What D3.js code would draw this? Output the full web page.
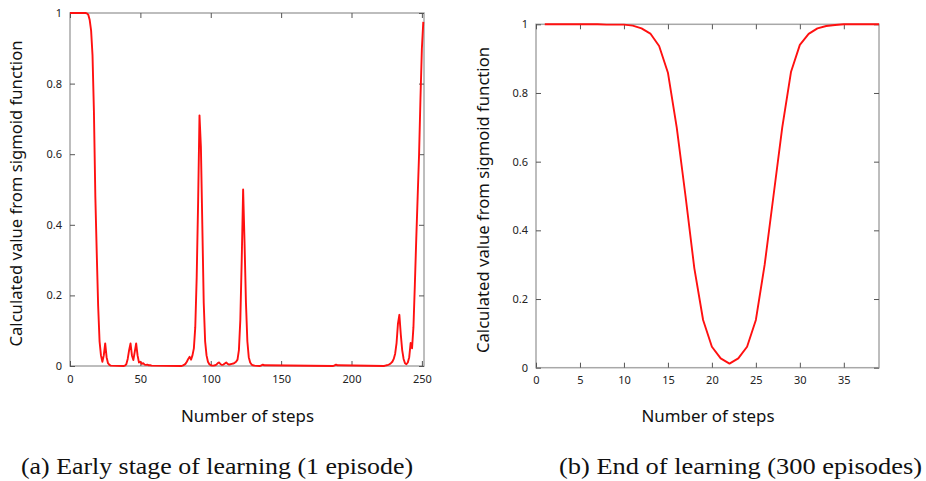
<!DOCTYPE html>
<html>
<head>
<meta charset="utf-8">
<script src="https://cdn.jsdelivr.net/npm/d3@7"></script>
<style>
  html, body { margin: 0; padding: 0; background: #fff; }
  svg { display: block; }
  .cap { font-family: "Liberation Serif", Tinos, "Times New Roman", serif; }
</style>
</head>
<body>
<svg id="chart" width="926" height="481"></svg>
<script>
// ---------- data ----------
// (a) Early stage of learning (1 episode)
const stepsA = [
  0, 10, 11, 12, 13, 14, 15, 16, 17, 18, 19, 20, 21, 22, 23, 24, 25, 26, 27, 28, 29, 38,
  39, 40, 41, 42, 43, 44, 45, 46, 47, 48, 49, 50, 51, 52, 53, 54, 55, 56, 57, 58, 79,
  80, 81, 82, 83, 84, 85, 86, 87, 88, 89, 90, 91, 92, 93, 94, 95, 96, 97, 98, 99, 100,
  101, 102, 103, 104, 105, 106, 107, 108, 109, 110, 111, 112, 113, 114, 115, 116, 117,
  118, 119, 120, 121, 122, 123, 124, 125, 126, 127, 128, 129, 130, 131, 135,
  136, 137, 138, 187, 188, 189, 190, 223,
  224, 225, 226, 227, 228, 229, 230, 231, 232, 233, 234, 235, 236, 237, 238, 239, 240,
  241, 242, 243, 244, 245, 246, 247, 248, 249, 250, 251
];
const valuesA = [
  1, 1, 1, 0.999, 0.995, 0.98, 0.95, 0.88, 0.72, 0.48, 0.32, 0.17, 0.07, 0.03, 0.012, 0.03, 0.064, 0.025, 0.008, 0.003, 0.001, 0,
  0.001, 0.005, 0.02, 0.045, 0.064, 0.03, 0.017, 0.04, 0.064, 0.03, 0.01, 0.012, 0.006, 0.008, 0.004, 0.003, 0.004, 0.002, 0.002, 0.001, 0,
  0.001, 0.003, 0.006, 0.012, 0.02, 0.026, 0.018, 0.03, 0.05, 0.11, 0.25, 0.46, 0.71, 0.62, 0.4, 0.18, 0.07, 0.03, 0.012, 0.005, 0.002,
  0.001, 0.001, 0.002, 0.004, 0.008, 0.01, 0.005, 0.003, 0.004, 0.007, 0.01, 0.006, 0.004, 0.005, 0.006, 0.007, 0.009,
  0.012, 0.018, 0.045, 0.13, 0.3, 0.5, 0.35, 0.18, 0.07, 0.025, 0.01, 0.004, 0.002, 0.001, 0,
  0.002, 0.004, 0.002, 0, 0.002, 0.004, 0.002, 0,
  0.001, 0.002, 0.003, 0.005, 0.008, 0.012, 0.02, 0.035, 0.065, 0.12, 0.145, 0.09, 0.045, 0.02, 0.008, 0.005, 0.01,
  0.025, 0.065, 0.05, 0.11, 0.23, 0.36, 0.48, 0.6, 0.76, 0.9, 0.975
];

// (b) End of learning (300 episodes)
const stepsB = [1, 2, 3, 4, 5, 6, 7, 8, 9, 10, 11, 12, 13, 14, 15, 16, 17, 18, 19, 20,
  21, 22, 23, 24, 25, 26, 27, 28, 29, 30, 31, 32, 33, 34, 35, 36, 37, 38, 39];
const valuesB = [1, 1, 1, 1, 1, 1, 1, 0.999, 0.999, 0.999, 0.996, 0.988, 0.973, 0.937, 0.859, 0.70, 0.50, 0.29, 0.139, 0.061,
  0.027, 0.012, 0.027, 0.061, 0.139, 0.30, 0.50, 0.70, 0.862, 0.94, 0.972, 0.988, 0.995, 0.998, 1, 1, 1, 1, 1];

// tick labels
const xTicksA = [0, 50, 100, 150, 200, 250];
const xTicksB = [0, 5, 10, 15, 20, 25, 30, 35];
const yTicks = [0, 0.2, 0.4, 0.6, 0.8, 1];

const yTitle = "Calculated value from sigmoid function";
const xTitle = "Number of steps";
const captions = ["(a) Early stage of learning (1 episode)", "(b) End of learning (300 episodes)"];

// ---------- drawing ----------
const svg = d3.select("#chart");
const FONT = "'Noto Sans', 'DejaVu Sans', sans-serif";

function panel(cfg) {
  const x = d3.scaleLinear().domain(cfg.xDomain).range([cfg.left, cfg.right]);
  const y = d3.scaleLinear().domain([0, 1]).range([cfg.bottom, cfg.top]);
  const g = svg.append("g");

  // frame
  g.append("rect")
    .attr("x", cfg.left).attr("y", cfg.top)
    .attr("width", cfg.right - cfg.left).attr("height", cfg.bottom - cfg.top)
    .attr("fill", "none").attr("stroke", "#a8a8a8").attr("stroke-width", 1.5);

  const styleAxis = (sel) => {
    sel.select(".domain").remove();
    sel.selectAll(".tick line").attr("stroke", "#555").attr("stroke-width", 1);
    sel.selectAll(".tick text")
      .attr("fill", "#222").style("font-family", FONT).style("font-size", "11px");
  };

  g.append("g").attr("transform", `translate(0,${cfg.bottom})`)
    .call(d3.axisBottom(x).tickValues(cfg.xTicks).tickFormat(d => String(d))
      .tickSizeInner(-5).tickSizeOuter(0).tickPadding(9))
    .call(styleAxis);
  g.append("g").attr("transform", `translate(0,${cfg.top})`)
    .call(d3.axisTop(x).tickValues(cfg.xTicks).tickFormat("")
      .tickSizeInner(-5).tickSizeOuter(0))
    .call(styleAxis);
  g.append("g").attr("transform", `translate(${cfg.left},0)`)
    .call(d3.axisLeft(y).tickValues(yTicks).tickFormat(d => String(d))
      .tickSizeInner(-5).tickSizeOuter(0).tickPadding(8))
    .call(styleAxis);
  g.append("g").attr("transform", `translate(${cfg.right},0)`)
    .call(d3.axisRight(y).tickValues(yTicks).tickFormat("")
      .tickSizeInner(-5).tickSizeOuter(0))
    .call(styleAxis);

  // line
  const pts = cfg.steps.map((s, i) => [s, cfg.values[i]]);
  g.append("path")
    .datum(pts)
    .attr("fill", "none")
    .attr("stroke", "#ff1010")
    .attr("stroke-width", 1.9)
    .attr("stroke-linejoin", "round")
    .attr("d", d3.line().x(d => x(d[0])).y(d => y(d[1])));

  // titles
  g.append("text")
    .attr("transform", `translate(${cfg.yTitleX},${(cfg.top + cfg.bottom) / 2 + 4}) rotate(-90)`)
    .attr("text-anchor", "middle")
    .attr("dominant-baseline", "middle")
    .attr("textLength", 306).attr("lengthAdjust", "spacingAndGlyphs")
    .style("font-family", FONT).style("font-size", "16px").attr("fill", "#111")
    .text(yTitle);
  g.append("text")
    .attr("x", (cfg.left + cfg.right) / 2 + 0.5)
    .attr("y", 418)
    .attr("text-anchor", "middle")
    .attr("dominant-baseline", "middle")
    .attr("textLength", 133).attr("lengthAdjust", "spacingAndGlyphs")
    .style("font-family", FONT).style("font-size", "16px").attr("fill", "#111")
    .text(xTitle);

  svg.append("text")
    .attr("class", "cap")
    .attr("x", cfg.capX).attr("y", 473.5)
    .attr("textLength", cfg.capW).attr("lengthAdjust", "spacingAndGlyphs")
    .style("font-size", "24px").attr("fill", "#111")
    .text(cfg.caption);
}

panel({
  left: 70, right: 424, top: 13, bottom: 366,
  xDomain: [0, 251.5], xTicks: xTicksA,
  steps: stepsA, values: valuesA,
  yTitleX: 18, capX: 21, capW: 392, caption: captions[0]
});
panel({
  left: 536, right: 879, top: 24.3, bottom: 367.7,
  xDomain: [0, 39], xTicks: xTicksB,
  steps: stepsB, values: valuesB,
  yTitleX: 485, capX: 559, capW: 363, caption: captions[1]
});
</script>
</body>
</html>
